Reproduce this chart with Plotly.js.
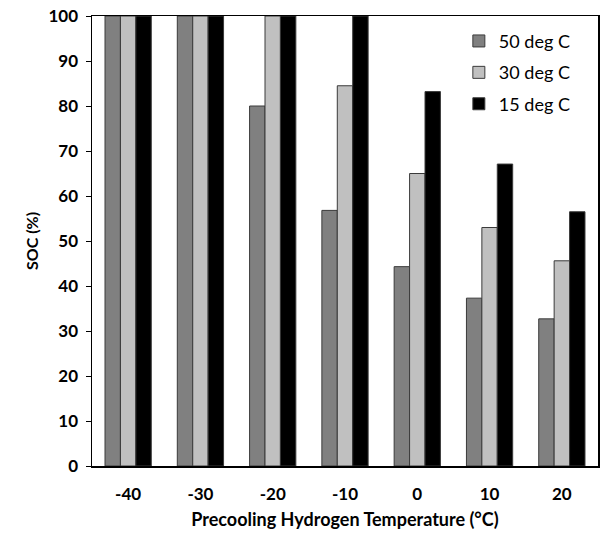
<!DOCTYPE html>
<html>
<head>
<meta charset="utf-8">
<script src="https://cdn.plot.ly/plotly-3.0.1.min.js"></script>
<style>html,body{margin:0;padding:0;background:#fff;}#chart{width:607px;height:533px;}</style>
</head>
<body>
<div id="chart"></div>
<script>
const categories = ["-40", "-30", "-20", "-10", "0", "10", "20"];
const seriesNames = ["50 deg C", "30 deg C", "15 deg C"];
const soc50 = [100, 100, 80.0, 56.8, 44.3, 37.3, 32.7];
const soc30 = [100, 100, 100, 84.5, 65.0, 53.0, 45.6];
const soc15 = [100, 100, 100, 100, 83.2, 67.1, 56.5];
const yTicks = [0, 10, 20, 30, 40, 50, 60, 70, 80, 90, 100];

const colors = ["#808080", "#c0c0c0", "#000000"];
const values = [soc50, soc30, soc15];
const font = "Lato, 'Open Sans', sans-serif";

const traces = values.map((v, i) => ({
  type: "bar",
  name: seriesNames[i],
  x: categories,
  y: v,
  legendgroup: "g" + i,
  marker: {color: colors[i], line: {color: "#3a3a3a", width: 1}}
}));

const layout = {
  width: 607, height: 533,
  margin: {l: 92, r: 9, t: 16, b: 67},
  paper_bgcolor: "#fff", plot_bgcolor: "#fff",
  barmode: "group", bargap: 0.36, bargroupgap: 0,
  font: {family: font, color: "#000"},
  xaxis: {
    type: "category",
    showline: true, linecolor: "#000", linewidth: 1.5, mirror: true,
    ticks: "", showgrid: false,
    ticklabelstandoff: 12,
    tickfont: {size: 17, family: font, weight: "bold"},
    title: {text: "<b>Precooling Hydrogen Temperature (°C)</b>", font: {size: 18}, standoff: 10}
  },
  yaxis: {
    range: [0, 100], tickvals: yTicks,
    showline: true, linecolor: "#000", linewidth: 1.5, mirror: true,
    ticks: "outside", ticklen: 5, tickcolor: "#000",
    ticklabelstandoff: 4,
    showgrid: false, zeroline: false,
    tickfont: {size: 17, family: font, weight: "bold"},
    title: {text: "SOC (%)", font: {size: 16, weight: "bold"}, standoff: 6}
  },
  showlegend: true,
  legend: {
    x: 0.725, y: 0.985, xanchor: "left", yanchor: "top",
    bgcolor: "rgba(0,0,0,0)", font: {size: 18},
    traceorder: "grouped", tracegroupgap: 5
  }
};

Plotly.newPlot("chart", traces, layout, {staticPlot: true});
</script>
</body>
</html>
